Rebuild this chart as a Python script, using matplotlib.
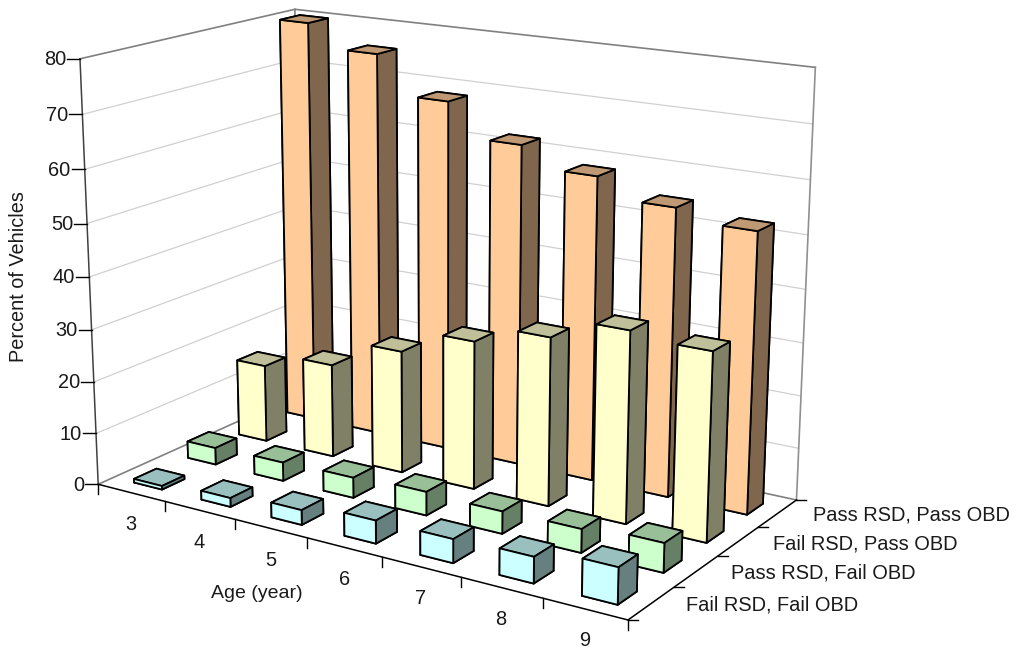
import matplotlib
matplotlib.use('Agg')
import matplotlib.pyplot as plt
from matplotlib.lines import Line2D
from matplotlib.transforms import IdentityTransform
from mpl_toolkits.mplot3d import proj3d

plt.rcParams['font.family'] = ['Liberation Sans', 'DejaVu Sans']

ages = ['3', '4', '5', '6', '7', '8', '9']
series = ['Fail RSD, Fail OBD', 'Pass RSD, Fail OBD', 'Fail RSD, Pass OBD', 'Pass RSD, Pass OBD']
fail_fail = [0.7, 1.7, 2.8, 4.3, 4.4, 4.8, 6.6]
pass_fail = [3.3, 3.6, 3.9, 4.5, 4.2, 4.4, 5.4]
fail_pass = [15.3, 18.3, 23.8, 28.5, 32, 36, 35]
pass_pass = [80, 75.6, 68.3, 62, 58.2, 54.6, 52.6]
z_ticks = [0, 10, 20, 30, 40, 50, 60, 70, 80]

# front, top and side colours for each row
row_values = [fail_fail, pass_fail, fail_pass, pass_pass]
row_colors = [('#CCFFFF', '#99BFBF', '#668080'),
              ('#CCFFCC', '#99BF99', '#668066'),
              ('#FFFFCC', '#BFBF99', '#808066'),
              ('#FFCC99', '#BF9973', '#80664D')]

W, H, S = 1018, 650, 1400.0
fig = plt.figure(figsize=(W / 100, H / 100), dpi=100)
ax = fig.add_axes([((W - S) / 2 - 83.68) / W, ((H - S) / 2 + 22.98) / H, S / W, S / H],
                  projection='3d', computed_zorder=False)
nx, ny, zmax = len(ages), len(series), z_ticks[-1]
ax.set_xlim(0, nx)
ax.set_ylim(0, ny)
ax.set_zlim(0, zmax)
ax.set_axis_off()
ax.view_init(15.9712, -56.8797)
ax.set_proj_type('persp', focal_length=0.3136)
ax.set_box_aspect((1, 0.5668, 0.7143), zoom=0.5859)
ax.apply_aspect()
M = ax.get_proj()


def to_px(x, y, z):
    xs, ys, _ = proj3d.proj_transform(x, y, z, M)
    return ax.transData.transform((xs, ys))


def px_line(p, q, color='black', lw=1.0):
    fig.add_artist(Line2D([p[0], q[0]], [p[1], q[1]], color=color, lw=lw, transform=IdentityTransform()))


# walls
for z in z_ticks[1:-1]:
    ax.plot([0, 0, nx], [0, ny, ny], [z, z, z], color='#D0D0D0', lw=0.9, zorder=1)
ax.plot([0, 0, nx], [0, ny, ny], [zmax, zmax, zmax], color='#808080', lw=1.2, zorder=2)
ax.plot([0, 0], [ny, ny], [0, zmax], color='#808080', lw=1.2, zorder=2)
ax.plot([nx, nx], [ny, ny], [0, zmax], color='#909090', lw=1.2, zorder=2)
ax.plot([0, 0, nx], [0, ny, ny], [0, 0, 0], color='#808080', lw=1.2, zorder=2)

# floor edges and the height axis
ax.plot([0, nx, nx], [0, 0, ny], [0, 0, 0], color='black', lw=1.1, zorder=3)
ax.plot([0, 0], [0, 0], [0, zmax], color='#404040', lw=1.1, zorder=3)

# bars, back row first and left to right in each row
width, depth = 0.42, 0.41
order = 10
for j in range(ny - 1, -1, -1):
    front, top, side = row_colors[j]
    for i in range(nx):
        # bar3d face order: bottom, top, front, back, left, right
        bar = ax.bar3d(i + 0.52 - width / 2, j + 0.48 - depth / 2, 0, width, depth, row_values[j][i],
                       color=[top, top, front, front, side, side], shade=False,
                       edgecolor='black', linewidth=1.3)
        bar.set_zorder(order)
        order += 1

# ticks and tick labels
for z in z_ticks:
    p = to_px(0, 0, z)
    px_line(p, (p[0] - 13, p[1]))
    fig.text((p[0] - 14) / W, (p[1] - 1) / H, str(z), ha='right', va='center', fontsize=14.4, color='#1A1A1A')
for i in range(nx + 1):
    p = to_px(i, 0, 0)
    px_line(p, (p[0], p[1] - 10))
for i, label in enumerate(ages):
    p = to_px(i + 0.5, 0, 0)
    fig.text(p[0] / W, (p[1] - 32) / H, label, ha='center', va='center', fontsize=14.4, color='#1A1A1A')
for j in range(ny + 1):
    p = to_px(nx, j, 0)
    px_line(p, (p[0] + 10, p[1]))
for j, label in enumerate(series):
    p = to_px(nx, j + 0.5, 0)
    fig.text((p[0] + 35) / W, (p[1] - 2) / H, label, ha='left', va='center', fontsize=14.4, color='#1A1A1A')

fig.text(19 / W, 1 - 277 / H, 'Percent of Vehicles', rotation=90, ha='center', va='center', fontsize=14.3, color='#1A1A1A')
fig.text(257 / W, 1 - 593 / H, 'Age (year)', ha='center', va='center', fontsize=14.0, color='#1A1A1A')

fig.savefig('out.png', dpi=100)
